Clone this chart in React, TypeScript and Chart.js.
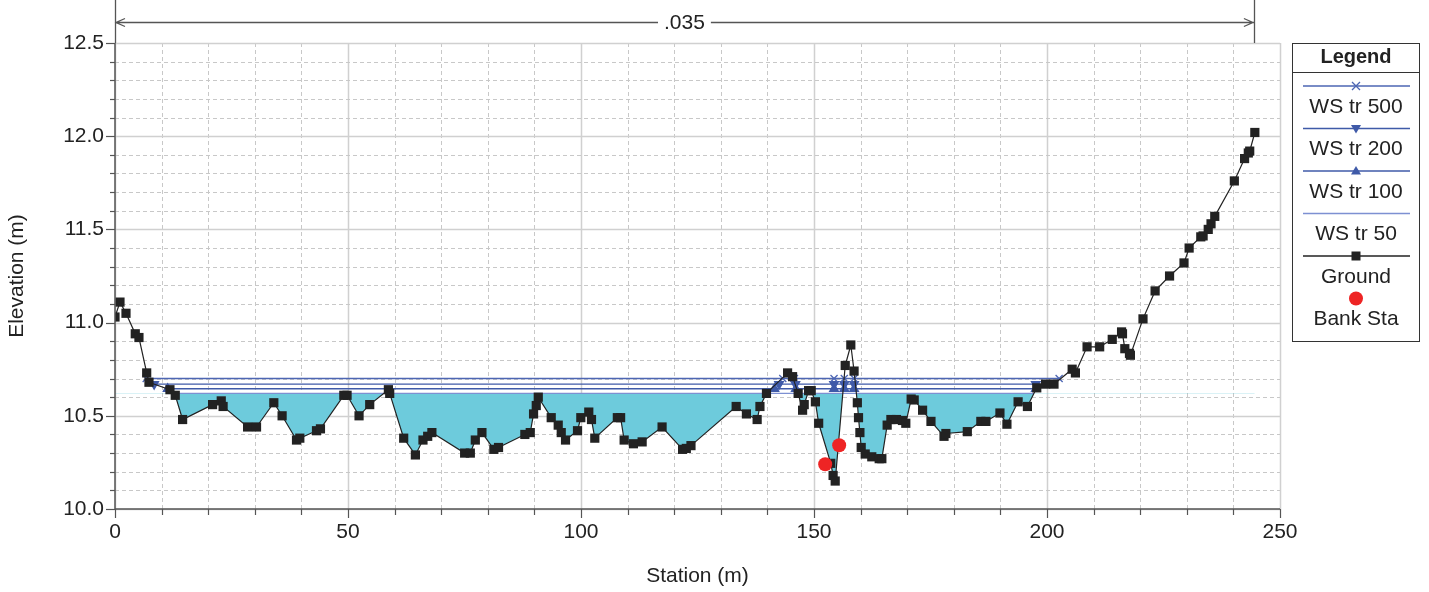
import React, { useEffect, useRef } from 'react';
import { Chart, registerables } from 'chart.js';
Chart.register(...registerables);

// ---------- data ----------
const GROUND_STA = [0, 1.07, 2.36, 4.35, 5.14, 6.8, 7.29, 11.79, 12.93, 14.51, 20.94, 22.8, 23.2, 28.45, 30.37, 34.08, 35.86, 38.95, 39.66, 43.24, 44.09, 49.1, 49.8, 52.37, 54.66, 58.67, 58.95, 61.95, 64.46, 66.09, 67.1, 68.0, 75.03, 76.25, 77.32, 78.74, 81.3, 82.3, 87.95, 89.11, 89.82, 90.4, 90.83, 93.61, 95.11, 95.76, 96.68, 99.25, 99.96, 101.67, 102.25, 102.96, 107.8, 108.5, 109.26, 111.25, 113.12, 117.4, 121.8, 122.6, 123.6, 133.3, 135.5, 137.8, 138.4, 139.8, 144.33, 145.4, 146.6, 147.55, 147.9, 148.84, 149.4, 150.3, 151.0, 153.6, 154.1, 154.55, 156.7, 157.9, 158.6, 159.3, 159.55, 159.85, 160.13, 160.99, 162.4, 163.99, 164.56, 165.7, 166.5, 167.7, 168.98, 169.7, 170.85, 171.5, 173.3, 175.1, 177.9, 178.3, 182.9, 185.8, 186.9, 189.9, 191.4, 193.8, 195.8, 197.8, 199.7, 201.5, 205.4, 206.1, 208.6, 211.3, 214.0, 216.0, 216.2, 216.7, 217.7, 217.9, 220.6, 223.2, 226.3, 229.4, 230.5, 233.0, 233.5, 234.6, 235.2, 236.0, 240.2, 242.4, 243.2, 243.5, 244.6];
const GROUND_ELEV = [11.03, 11.11, 11.05, 10.94, 10.92, 10.73, 10.68, 10.64, 10.61, 10.48, 10.56, 10.58, 10.55, 10.44, 10.44, 10.57, 10.5, 10.37, 10.38, 10.42, 10.43, 10.61, 10.61, 10.5, 10.56, 10.64, 10.62, 10.38, 10.29, 10.37, 10.39, 10.41, 10.3, 10.3, 10.37, 10.41, 10.32, 10.33, 10.4, 10.41, 10.51, 10.555, 10.6, 10.49, 10.45, 10.41, 10.37, 10.42, 10.49, 10.52, 10.48, 10.38, 10.49, 10.49, 10.37, 10.35, 10.36, 10.44, 10.32, 10.325, 10.34, 10.55, 10.51, 10.48, 10.55, 10.62, 10.73, 10.71, 10.62, 10.53, 10.56, 10.635, 10.635, 10.575, 10.46, 10.245, 10.18, 10.15, 10.77, 10.88, 10.74, 10.57, 10.49, 10.41, 10.33, 10.295, 10.28, 10.27, 10.27, 10.45, 10.48, 10.48, 10.475, 10.46, 10.59, 10.585, 10.53, 10.47, 10.39, 10.405, 10.415, 10.47, 10.47, 10.515, 10.455, 10.575, 10.55, 10.65, 10.67, 10.67, 10.75, 10.73, 10.87, 10.87, 10.91, 10.95, 10.94, 10.86, 10.835, 10.825, 11.02, 11.17, 11.25, 11.32, 11.4, 11.46, 11.465, 11.5, 11.53, 11.57, 11.76, 11.88, 11.91, 11.92, 12.02];

const BANK_STA = [152.4, 155.4];
const BANK_ELEV = [10.24, 10.342];

const WS_NAMES = ['WS tr 500', 'WS tr 200', 'WS tr 100', 'WS tr 50'];
const WS_ELEV = [10.7, 10.67, 10.645, 10.62];
const WS500_STA = [6.7, 143.3, 145.8, 154.3, 156.5, 158.6, 202.6];
const WS200_STA = [8.4, 142.5, 146.0, 154.3, 156.5, 158.6, 197.6];
const WS100_STA = [11.3, 141.5, 146.1, 154.3, 156.5, 158.6, 197.6];
const WS50_STA = [12.6, 197.2];

const N_STA = [0, 244.4];
const N_LABEL = '.035';

const X_MIN = 0, X_MAX = 250, X_MAJOR = 50, X_MINOR = 10;
const Y_MIN = 10, Y_MAX = 12.5, Y_MAJOR = 0.5, Y_MINOR = 0.1;

// ---------- styles ----------
const FONT = "'Liberation Sans', Arial, sans-serif";
const FS = 21;
const TXT = '#222222';
const WS_COLORS = ['#4d66b3', '#3f5aa8', '#3f5aa8', '#7d90d2'];
const WS_MARKERS = ['crossRot', 'triangle', 'triangle', false];
const WS_ROT = [0, 180, 0, 0];
const GROUND_COLOR = '#222222';
const FILL_COLOR = '#6dcbdc';
const BANK_COLOR = '#ee2424';

const pts = (xs: number[], ys: number[]) => xs.map((x, i) => ({ x, y: ys[i] }));
const flat = (xs: number[], y: number) => xs.map((x) => ({ x, y }));

const decor = {
  id: 'decor',
  beforeDatasetsDraw(chart: any) {
    const { ctx, chartArea: a, scales } = chart;
    const x = scales.x, y = scales.y;
    ctx.save();
    const nx = Math.round((X_MAX - X_MIN) / X_MINOR);
    for (let i = 0; i <= nx; i++) {
      const v = X_MIN + i * X_MINOR;
      const major = Math.abs(v / X_MAJOR - Math.round(v / X_MAJOR)) < 1e-6;
      const px = Math.round(x.getPixelForValue(v)) + 0.5;
      ctx.beginPath();
      if (major) { ctx.setLineDash([]); ctx.strokeStyle = '#d0d0d0'; ctx.lineWidth = 1.5; }
      else { ctx.setLineDash([4, 3]); ctx.strokeStyle = '#c8c8c8'; ctx.lineWidth = 1; }
      ctx.moveTo(px, a.top); ctx.lineTo(px, a.bottom); ctx.stroke();
    }
    const ny = Math.round((Y_MAX - Y_MIN) / Y_MINOR);
    for (let i = 0; i <= ny; i++) {
      const v = Y_MIN + i * Y_MINOR;
      const major = i % Math.round(Y_MAJOR / Y_MINOR) === 0;
      const py = Math.round(y.getPixelForValue(v)) + 0.5;
      ctx.beginPath();
      if (major) { ctx.setLineDash([]); ctx.strokeStyle = '#d0d0d0'; ctx.lineWidth = 1.5; }
      else { ctx.setLineDash([4, 3]); ctx.strokeStyle = '#c8c8c8'; ctx.lineWidth = 1; }
      ctx.moveTo(a.left, py); ctx.lineTo(a.right, py); ctx.stroke();
    }
    ctx.restore();
  },
  afterDraw(chart: any) {
    const { ctx, chartArea: a, scales } = chart;
    const x = scales.x, y = scales.y;
    ctx.save();
    ctx.setLineDash([]);
    // axes
    ctx.strokeStyle = '#555555';
    ctx.lineWidth = 1.5;
    ctx.beginPath();
    ctx.moveTo(a.left, a.top); ctx.lineTo(a.left, a.bottom); ctx.lineTo(a.right, a.bottom);
    ctx.stroke();
    // ticks
    ctx.lineWidth = 1.2;
    const ny = Math.round((Y_MAX - Y_MIN) / Y_MINOR);
    for (let i = 0; i <= ny; i++) {
      const major = i % Math.round(Y_MAJOR / Y_MINOR) === 0;
      const py = Math.round(y.getPixelForValue(Y_MIN + i * Y_MINOR)) + 0.5;
      ctx.beginPath(); ctx.moveTo(a.left - (major ? 9 : 5), py); ctx.lineTo(a.left, py); ctx.stroke();
    }
    const nx = Math.round((X_MAX - X_MIN) / X_MINOR);
    for (let i = 0; i <= nx; i++) {
      const v = X_MIN + i * X_MINOR;
      const major = Math.abs(v / X_MAJOR - Math.round(v / X_MAJOR)) < 1e-6;
      const px = Math.round(x.getPixelForValue(v)) + 0.5;
      ctx.beginPath(); ctx.moveTo(px, a.bottom); ctx.lineTo(px, a.bottom + (major ? 9 : 6)); ctx.stroke();
    }
    // Manning's n annotation
    const x0 = x.getPixelForValue(N_STA[0]);
    const x1 = x.getPixelForValue(N_STA[1]);
    const ay = 22.5;
    ctx.strokeStyle = '#555555';
    ctx.lineWidth = 1.3;
    ctx.beginPath();
    ctx.moveTo(Math.round(x0) + 0.5, 0); ctx.lineTo(Math.round(x0) + 0.5, a.top);
    ctx.moveTo(Math.round(x1) + 0.5, 0); ctx.lineTo(Math.round(x1) + 0.5, a.top);
    ctx.moveTo(x0, ay); ctx.lineTo(x1, ay);
    ctx.moveTo(x0 + 10, ay - 4); ctx.lineTo(x0 + 1, ay); ctx.lineTo(x0 + 10, ay + 4);
    ctx.moveTo(x1 - 10, ay - 4); ctx.lineTo(x1 - 1, ay); ctx.lineTo(x1 - 10, ay + 4);
    ctx.stroke();
    ctx.font = `${FS}px ${FONT}`;
    const mid = (x0 + x1) / 2;
    const tw = ctx.measureText(N_LABEL).width;
    ctx.fillStyle = '#ffffff';
    ctx.fillRect(mid - tw / 2 - 6, ay - 11, tw + 12, 22);
    ctx.fillStyle = TXT;
    ctx.textAlign = 'center';
    ctx.textBaseline = 'middle';
    ctx.fillText(N_LABEL, mid, ay + 1);

    // legend
    const L = 1292.5, R = 1419.5, T = 43.5, B = 341.5;
    const cx = (L + R) / 2;
    ctx.fillStyle = '#ffffff';
    ctx.fillRect(L, T, R - L, B - T);
    ctx.strokeStyle = '#333333';
    ctx.lineWidth = 1;
    ctx.strokeRect(L, T, R - L, B - T);
    ctx.beginPath(); ctx.moveTo(L, 72.5); ctx.lineTo(R, 72.5); ctx.stroke();
    ctx.fillStyle = TXT;
    ctx.font = `bold ${FS - 1}px ${FONT}`;
    ctx.fillText('Legend', cx, 57);
    ctx.font = `${FS}px ${FONT}`;
    const step = 42.5;
    const entries = [...WS_NAMES, 'Ground', 'Bank Sta'];
    entries.forEach((name, i) => {
      const ly = 86 + i * step;
      const ty = 107 + i * step;
      ctx.save();
      if (i < 4) {
        ctx.strokeStyle = WS_COLORS[i];
        ctx.fillStyle = WS_COLORS[i];
        ctx.lineWidth = 1.3;
        ctx.beginPath(); ctx.moveTo(1303, ly); ctx.lineTo(1410, ly); ctx.stroke();
        if (WS_MARKERS[i] === 'crossRot') {
          ctx.beginPath();
          ctx.moveTo(cx - 4, ly - 4); ctx.lineTo(cx + 4, ly + 4);
          ctx.moveTo(cx + 4, ly - 4); ctx.lineTo(cx - 4, ly + 4);
          ctx.stroke();
        } else if (WS_MARKERS[i] === 'triangle') {
          const d = WS_ROT[i] === 180 ? 1 : -1;
          ctx.beginPath();
          ctx.moveTo(cx - 5, ly - d * 3.5); ctx.lineTo(cx + 5, ly - d * 3.5); ctx.lineTo(cx, ly + d * 5);
          ctx.closePath(); ctx.fill();
        }
      } else if (i === 4) {
        ctx.strokeStyle = GROUND_COLOR;
        ctx.fillStyle = GROUND_COLOR;
        ctx.lineWidth = 1.3;
        ctx.beginPath(); ctx.moveTo(1303, ly); ctx.lineTo(1410, ly); ctx.stroke();
        ctx.fillRect(cx - 4.5, ly - 4.5, 9, 9);
      } else {
        ctx.fillStyle = BANK_COLOR;
        ctx.beginPath(); ctx.arc(cx, ly, 7, 0, Math.PI * 2); ctx.fill();
      }
      ctx.restore();
      ctx.fillStyle = TXT;
      ctx.fillText(name, cx, ty);
    });
    ctx.restore();
  },
};

export default function App() {
  const ref = useRef<HTMLCanvasElement | null>(null);
  useEffect(() => {
    if (!ref.current) return;
    const wsSta = [WS500_STA, WS200_STA, WS100_STA, WS50_STA];
    const wsSets = WS_NAMES.map((name, i) => ({
      label: name,
      data: flat(wsSta[i], WS_ELEV[i]),
      borderColor: WS_COLORS[i],
      backgroundColor: WS_COLORS[i],
      borderWidth: 1.3,
      pointStyle: WS_MARKERS[i] as any,
      pointRadius: WS_MARKERS[i] ? 5 : 0,
      pointRotation: WS_ROT[i],
      pointBorderWidth: 1.3,
      fill: false,
      order: 5 + i,
    }));
    const chart = new Chart(ref.current, {
      type: 'line',
      data: {
        datasets: [
          {
            label: 'water',
            data: pts(GROUND_STA, GROUND_ELEV),
            borderWidth: 0,
            borderColor: 'rgba(0,0,0,0)',
            pointRadius: 0,
            fill: { target: { value: WS_ELEV[3] }, above: 'rgba(0,0,0,0)', below: FILL_COLOR } as any,
            order: 20,
          },
          ...wsSets,
          {
            label: 'Ground',
            data: pts(GROUND_STA, GROUND_ELEV),
            borderColor: GROUND_COLOR,
            backgroundColor: GROUND_COLOR,
            borderWidth: 1.2,
            pointStyle: 'rect',
            pointRadius: 6.5,
            pointBorderWidth: 0,
            fill: false,
            order: 1,
          },
          {
            label: 'Bank Sta',
            data: pts(BANK_STA, BANK_ELEV),
            showLine: false,
            borderColor: BANK_COLOR,
            backgroundColor: BANK_COLOR,
            pointStyle: 'circle',
            pointRadius: 7,
            pointBorderWidth: 0,
            order: 0,
          },
        ] as any,
      },
      options: {
        animation: false,
        responsive: false,
        maintainAspectRatio: false,
        layout: { padding: { left: 0, right: 149, top: 43, bottom: 0 } },
        plugins: { legend: { display: false }, tooltip: { enabled: false } },
        elements: { line: { tension: 0 } },
        scales: {
          x: {
            type: 'linear',
            min: X_MIN,
            max: X_MAX,
            grid: { display: false, drawTicks: false },
            border: { display: false },
            ticks: { stepSize: X_MAJOR, padding: 11, color: TXT, font: { size: FS, family: FONT }, maxRotation: 0 },
            title: { display: true, text: 'Station (m)', color: TXT, font: { size: FS, family: FONT }, padding: { top: 0, bottom: 3 } },
            afterFit: (s: any) => { s.height = 83; },
          },
          y: {
            type: 'linear',
            min: Y_MIN,
            max: Y_MAX,
            grid: { display: false, drawTicks: false },
            border: { display: false },
            ticks: { stepSize: Y_MAJOR, padding: 11, color: TXT, font: { size: FS, family: FONT }, callback: (v: any) => Number(v).toFixed(1) },
            title: { display: true, text: 'Elevation (m)', color: TXT, font: { size: FS, family: FONT }, padding: { top: 5, bottom: 0 } },
            afterFit: (s: any) => { s.width = 115; },
          },
        },
      },
      plugins: [decor],
    });
    return () => chart.destroy();
  }, []);
  return (
    <div style={{ position: 'absolute', left: 0, top: 0, width: 1429, height: 592, background: '#fff' }}>
      <canvas ref={ref} width={1429} height={592} style={{ display: 'block' }} />
    </div>
  );
}
